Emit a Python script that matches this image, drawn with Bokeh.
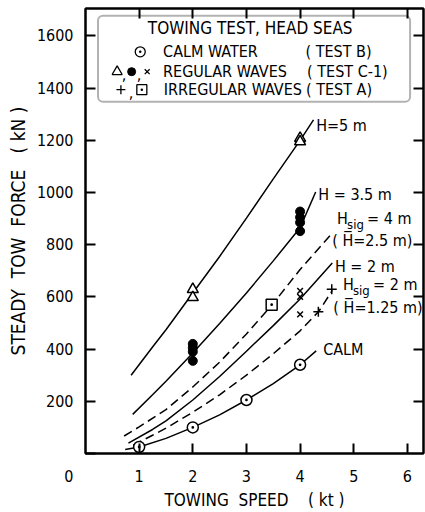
from bokeh.plotting import figure
from bokeh.models import Range1d, LinearAxis, FixedTicker, BoxAnnotation
from bokeh.core.properties import value
from bokeh.embed import file_html
from bokeh.resources import INLINE

FONT = "DejaVu Sans Condensed"

# ---------------- data ----------------
x_ticks = [1, 2, 3, 4, 5, 6]
y_ticks = [200, 400, 600, 800, 1000, 1200, 1400, 1600]

# measured points
calm_x = [1, 2, 3, 4]
calm_y = [25, 100, 205, 340]
tri_x = [2, 2, 4, 4]
tri_y = [629, 598, 1208, 1195]
dot_x = [2, 2, 2, 2, 4, 4, 4, 4]
dot_y = [355, 390, 405, 420, 852, 885, 905, 927]
xmark_x = [4, 4, 4]
xmark_y = [533, 600, 623]
plus_x = [4.34, 4.59]
plus_y = [543, 629]
sq_x = [3.47]
sq_y = [570]

# faired curves
h5_x = [0.85, 1.25, 1.5, 2.0, 2.5, 3.0, 3.5, 4.0, 4.25]
h5_y = [300, 408, 474, 615, 755, 902, 1052, 1200, 1278]
h35_x = [0.88, 1.25, 1.5, 2.0, 2.5, 3.0, 3.5, 4.0]
h35_y = [150, 225, 277, 385, 498, 615, 738, 865]
hs4_x = [0.72, 1.0, 1.5, 2.0, 2.5, 3.0, 3.5, 4.0, 4.6]
hs4_y = [67, 102, 168, 255, 350, 458, 575, 705, 845]
h2_x = [0.8, 1.25, 1.5, 2.0, 2.5, 3.0, 3.5, 4.0, 4.6]
h2_y = [40, 92, 125, 205, 295, 392, 490, 592, 730]
hs2_x = [0.89, 1.25, 1.5, 2.0, 2.5, 3.0, 3.5, 4.0, 4.35, 4.6]
hs2_y = [32, 70, 97, 158, 225, 300, 382, 470, 545, 625]
calmc_x = [0.74, 1.0, 1.5, 2.0, 2.5, 3.0, 3.5, 4.0, 4.3]
calmc_y = [15, 25, 58, 100, 148, 205, 268, 340, 393]

# ---------------- figure ----------------
p = figure(width=425, height=512, x_range=Range1d(0, 6.3), y_range=Range1d(0, 1705),
           output_backend="svg", toolbar_location=None,
           min_border_left=85, min_border_right=2, min_border_top=8, min_border_bottom=57,
           background_fill_color="white", border_fill_color="white")
p.outline_line_color = "black"
p.outline_line_width = 2
p.grid.visible = False

def style_axis(ax, labels=True):
    ax.major_tick_in = 10
    ax.major_tick_out = 0
    ax.minor_tick_line_color = None
    ax.axis_line_width = 2
    ax.axis_line_color = "black"
    ax.major_tick_line_width = 2
    ax.major_tick_line_color = "black"
    ax.major_label_text_font = FONT
    if labels:
        ax.major_label_text_color = "black"
        ax.major_label_text_font_size = "16px"
    else:
        ax.major_label_text_color = None
        ax.major_label_text_font_size = "1px"
        ax.major_label_standoff = 0

xa = p.xaxis[0]
xa.ticker = FixedTicker(ticks=x_ticks)
style_axis(xa)
xa.major_label_standoff = 16
xa.axis_label = "TOWING\u00a0\u00a0SPEED\u00a0\u00a0\u00a0\u00a0(\u00a0kt\u00a0)"
xa.axis_label_text_font = FONT
xa.axis_label_text_font_size = "17px"
xa.axis_label_text_font_style = "normal"
xa.axis_label_text_color = "black"
xa.axis_label_standoff = 5

ya = p.yaxis[0]
ya.ticker = FixedTicker(ticks=[0] + y_ticks)
style_axis(ya)
ya.major_label_overrides = {0: "\n\n0"}
ya.major_label_standoff = 12
ya.axis_label = "STEADY\u00a0\u00a0TOW\u00a0\u00a0FORCE\u00a0\u00a0\u00a0(\u00a0kN\u00a0)"
ya.axis_label_text_font = FONT
ya.axis_label_text_font_size = "19px"
ya.axis_label_text_font_style = "normal"
ya.axis_label_text_color = "black"
ya.axis_label_standoff = 5

top = LinearAxis(ticker=FixedTicker(ticks=x_ticks))
style_axis(top, labels=False)
p.add_layout(top, "above")
right = LinearAxis(ticker=FixedTicker(ticks=y_ticks))
style_axis(right, labels=False)
p.add_layout(right, "right")

# ---------------- curves ----------------
LW = 1.5
DASH = "9 5"
p.line(h5_x, h5_y, line_color="black", line_width=LW)
p.line(h35_x, h35_y, line_color="black", line_width=LW)
p.line(hs4_x, hs4_y, line_color="black", line_width=LW, line_dash=DASH)
p.line(h2_x, h2_y, line_color="black", line_width=LW)
p.line(hs2_x, hs2_y, line_color="black", line_width=LW, line_dash=DASH)
p.line(calmc_x, calmc_y, line_color="black", line_width=LW)

# ---------------- markers ----------------
p.scatter(calm_x, calm_y, marker="circle_dot", size=11, line_color="black", line_width=1.5, fill_color="white")
p.scatter(tri_x, tri_y, marker="triangle", size=11, line_color="black", line_width=1.5, fill_color="white")
p.scatter(dot_x, dot_y, marker="circle", size=9, line_color="black", fill_color="black")
p.scatter(xmark_x, xmark_y, marker="x", size=8, line_color="black", line_width=1.5)
p.scatter(plus_x, plus_y, marker="cross", size=10, line_color="black", line_width=1.5)
p.scatter(sq_x, sq_y, marker="square_dot", size=11, line_color="black", line_width=1.5, fill_color="white")

# ---------------- curve labels ----------------
TF = value(FONT)
lab_x = [4.30, 4.34, 4.60, 4.65, 4.62, 4.43]
lab_y = [1256, 992, 816, 717, 560, 400]
lab_t = ["H=5 m", "H = 3.5 m", "(\u00a0H\u0305=2.5 m)", "H = 2 m", "(\u00a0H\u0305=1.25 m)", "CALM"]
p.text(lab_x, lab_y, text=lab_t, text_font=TF, text_font_size="16px",
       text_align="left", text_baseline="middle", text_color="black")

# leader for H = 3.5 m
p.segment(x0=[h35_x[-1]], y0=[h35_y[-1]], x1=[lab_x[1] - 0.05], y1=[lab_y[1] + 10],
          line_color="black", line_width=LW)

# H_sig labels
sig_x = [4.69, 4.80]
sig_y = [900, 648]
sig_rest = ["= 4 m", "= 2 m"]
p.text(sig_x, sig_y, text=["H", "H"], text_font=TF, text_font_size="16px",
       text_align="left", text_baseline="middle", text_color="black")
p.text(sig_x, sig_y, text=["sig", "sig"], text_font=TF, text_font_size="13px",
       text_align="left", text_baseline="middle", text_color="black", x_offset=10, y_offset=6)
p.text(sig_x, sig_y, text=sig_rest, text_font=TF, text_font_size="16px",
       text_align="left", text_baseline="middle", text_color="black", x_offset=30)

# ---------------- legend box ----------------
box = BoxAnnotation(left=0.233, right=6.05, bottom=1348, top=1677, fill_color="white", fill_alpha=1.0,
                    line_color="black", line_width=2, border_radius=5, level="underlay")
p.add_layout(box)

p.text([3.07], [1631], text=["TOWING TEST, HEAD SEAS"], text_font=TF, text_font_size="17px",
       text_align="center", text_baseline="middle", text_color="black")
leg_x = [1.446, 1.446, 1.46]
leg_y = [1539, 1463, 1394]
p.text(leg_x, leg_y, text=["CALM WATER", "REGULAR WAVES", "IRREGULAR WAVES"], text_font=TF,
       text_font_size="16px", text_align="left", text_baseline="middle", text_color="black")
p.text([4.10, 4.13, 4.11], leg_y, text=["(\u00a0TEST B)", "(\u00a0TEST C-1)", "(\u00a0TEST A)"], text_font=TF,
       text_font_size="16px", text_align="left", text_baseline="middle", text_color="black")
# legend symbols
p.scatter([1.02], [leg_y[0]], marker="circle_dot", size=10, line_color="black", line_width=1.3, fill_color="white")
p.scatter([0.59], [leg_y[1]], marker="triangle", size=10, line_color="black", line_width=1.3, fill_color="white")
p.scatter([0.86], [leg_y[1]], marker="circle", size=8, line_color="black", fill_color="black")
p.scatter([1.15], [leg_y[1]], marker="x", size=7, line_color="black", line_width=1.3)
p.scatter([0.66], [leg_y[2]], marker="cross", size=9, line_color="black", line_width=1.3)
p.scatter([1.05], [leg_y[2]], marker="square_dot", size=10, line_color="black", line_width=1.3, fill_color="white")
p.text([0.72, 1.0, 0.85], [leg_y[1], leg_y[1], leg_y[2]], text=[",", ",", ","], text_font=TF,
       text_font_size="16px", text_align="center", text_baseline="middle", text_color="black", y_offset=2)

open("out.html", "w").write(file_html(p, INLINE))
